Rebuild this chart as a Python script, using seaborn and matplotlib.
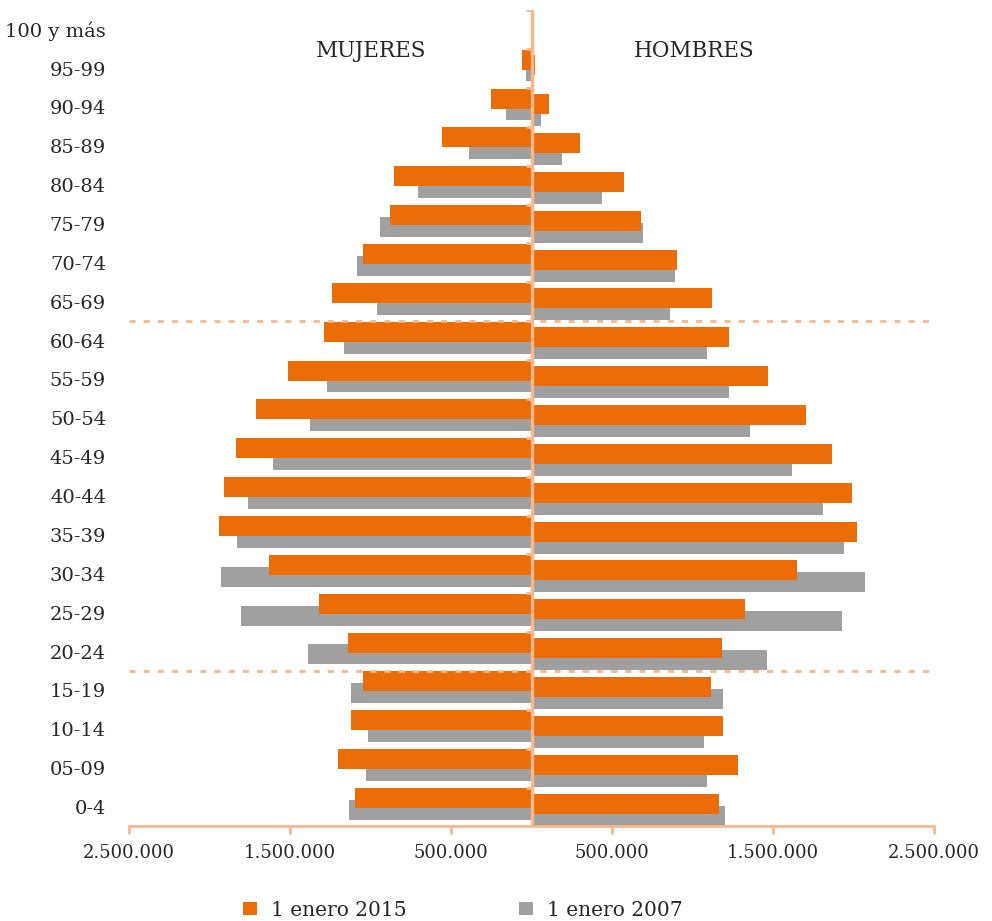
import numpy as np
import pandas as pd
import seaborn as sns
import matplotlib.pyplot as plt
from matplotlib.patches import Patch

sns.set_theme(style="white")
plt.rcParams['font.family'] = ['DejaVu Serif']

# ---------------- data ----------------
age_groups = ['100 y más', '95-99', '90-94', '85-89', '80-84', '75-79', '70-74',
              '65-69', '60-64', '55-59', '50-54', '45-49', '40-44', '35-39',
              '30-34', '25-29', '20-24', '15-19', '10-14', '05-09', '0-4']

mujeres_2015 = [5000, 58000, 249000, 553000, 852000, 881000, 1047000,
                1238000, 1289000, 1513000, 1712000, 1833000, 1911000, 1942000,
                1629000, 1320000, 1138000, 1047000, 1121000, 1204000, 1095000]
mujeres_2007 = [3000, 35000, 157000, 386000, 707000, 941000, 1082000,
                958000, 1165000, 1273000, 1374000, 1606000, 1758000, 1828000,
                1926000, 1803000, 1391000, 1119000, 1014000, 1030000, 1132000]
hombres_2015 = [1500, 22000, 109000, 303000, 576000, 678000, 906000,
                1124000, 1225000, 1472000, 1704000, 1868000, 1990000, 2019000,
                1648000, 1327000, 1186000, 1113000, 1192000, 1285000, 1167000]
hombres_2007 = [1000, 12000, 62000, 189000, 440000, 695000, 894000,
                860000, 1093000, 1229000, 1360000, 1617000, 1810000, 1938000,
                2073000, 1926000, 1460000, 1190000, 1074000, 1088000, 1202000]

x_ticks = [-2500000, -1500000, -500000, 500000, 1500000, 2500000]
x_tick_labels = ['2.500.000', '1.500.000', '500.000', '500.000', '1.500.000', '2.500.000']
series_labels = ['1 enero 2015', '1 enero 2007']
side_titles = ['MUJERES', 'HOMBRES']
group_breaks = ['65-69', '20-24']   # dashed line below these groups

# ---------------- style ----------------
ORANGE = '#EC6C07'
GRAY = '#A0A0A0'
PEACH = '#F6B88C'
TEXT = '#262626'
BAR_H = 0.515

fig = plt.figure(figsize=(9.92, 9.21), dpi=100)
ax = fig.add_axes([129 / 992, 1 - 826.4 / 921, (934 - 129) / 992, (826.4 - 10.3) / 921])

pos = np.arange(len(age_groups))

def draw(values, offset, color, z, sign):
    df = pd.DataFrame({'v': sign * np.asarray(values, dtype=float), 'p': pos + offset})
    sns.barplot(data=df, x='v', y='p', orient='y', native_scale=True,
                width=BAR_H, color=color, saturation=1, errorbar=None,
                linewidth=0, ax=ax, zorder=z)

draw(mujeres_2007, 0.074, GRAY, 2, -1)
draw(mujeres_2015, -0.230, ORANGE, 3, -1)
draw(hombres_2007, 0.223, GRAY, 2, 1)
draw(hombres_2015, -0.086, ORANGE, 3, 1)

ax.set_xlim(-2500000, 2500000)
ax.set_ylim(len(age_groups) - 0.5, -0.5)

ax.set_yticks(pos)
ax.set_yticklabels(age_groups)
ax.set_xticks(x_ticks)
ax.set_xticklabels(x_tick_labels)
ax.set_xlabel('')
ax.set_ylabel('')

for s in ['left', 'right', 'top']:
    ax.spines[s].set_visible(False)
ax.spines['bottom'].set_color(PEACH)
ax.spines['bottom'].set_linewidth(2)

ax.tick_params(axis='x', direction='out', length=6, width=2, color=PEACH,
               labelcolor=TEXT, labelsize=13, pad=7, bottom=True)
ax.tick_params(axis='y', length=0, labelcolor=TEXT, labelsize=14, pad=16.5, left=False)

# central axis with category boundary ticks
ax.axvline(0, color=PEACH, lw=2.4, zorder=4)
ax.hlines(pos - 0.5, -32000, 0, color=PEACH, lw=2, zorder=4)

# dashed separators
for g in group_breaks:
    ax.axhline(age_groups.index(g) + 0.5, color=PEACH, lw=2,
               ls=(0, (2.2, 2.9)), zorder=5)

ax.grid(False)

fig.text(371 / 992, 1 - 51 / 921, side_titles[0], ha='center', va='center',
         fontsize=15.5, color=TEXT)
fig.text(694 / 992, 1 - 51 / 921, side_titles[1], ha='center', va='center',
         fontsize=15.5, color=TEXT)

handles = [Patch(facecolor=ORANGE, edgecolor='none', label=series_labels[0]),
           Patch(facecolor=GRAY, edgecolor='none', label=series_labels[1])]
leg = fig.legend(handles=handles, loc='center', bbox_to_anchor=(463 / 992, 1 - 910 / 921),
                 ncol=2, frameon=False, fontsize=14.5, handlelength=0.67,
                 handleheight=0.67, handletextpad=0.7, columnspacing=5.6)
for t in leg.get_texts():
    t.set_color(TEXT)

fig.savefig('out.png', dpi=100)
